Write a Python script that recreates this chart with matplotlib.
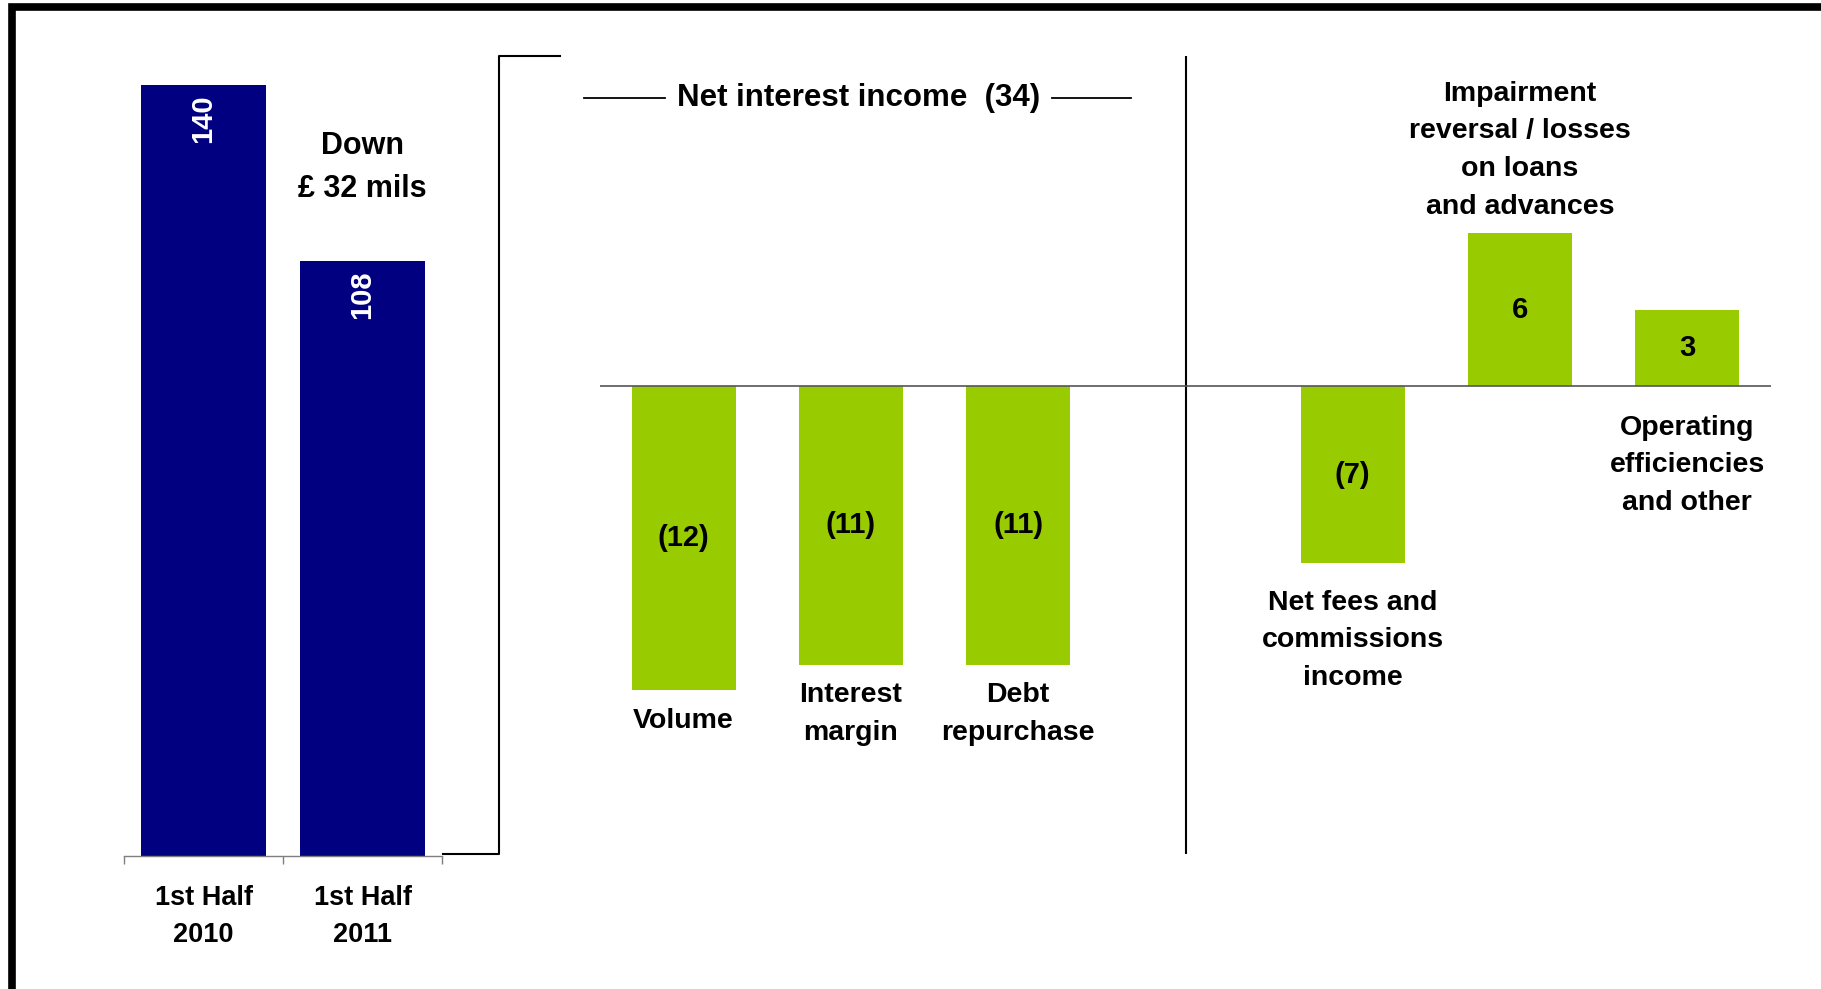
import matplotlib
matplotlib.use("Agg")
import matplotlib.pyplot as plt
from matplotlib.lines import Line2D
from matplotlib.patches import Rectangle

plt.rcParams['font.family'] = ['Liberation Sans', 'DejaVu Sans']
plt.rcParams['font.weight'] = 'bold'

# data
periods = ["1st Half\n2010", "1st Half\n2011"]
profit = [140, 108]

drivers = ["Volume", "Interest\nmargin", "Debt\nrepurchase",
           "Net fees and\ncommissions\nincome",
           "Impairment\nreversal / losses\non loans\nand advances",
           "Operating\nefficiencies\nand other"]
driver_values = [-12, -11, -11, -7, 6, 3]
driver_pos = [0, 1, 2, 4, 5, 6]   # slot 3 is the divider

# label placement (points away from the bar end / zero line)
label_above = [False, False, False, False, True, False]
label_gap = [12.5, 12.5, 12.5, 19, 10, 21]

NAVY = '#000080'
GREEN = '#99CC00'

W, H = 1821, 989


def fx(p):
    return p / W


def fy(p):
    return 1 - p / H


fig = plt.figure(figsize=(W / 100, H / 100), dpi=100)

# left panel: half year totals
ax1 = fig.add_axes([fx(124), fy(856), (442 - 124) / W, (856 - 29.5) / H])
ax1.bar(range(len(profit)), profit, width=0.79, color=NAVY, zorder=2)
ax1.set_xlim(-0.5, len(profit) - 0.5)
ax1.set_ylim(0, 150)
for s in ['left', 'right', 'top']:
    ax1.spines[s].set_visible(False)
ax1.spines['bottom'].set_color('#7f7f7f')
ax1.spines['bottom'].set_linewidth(1)
ax1.set_yticks([])
ax1.set_xticks(range(len(profit)))
ax1.set_xticklabels(periods, fontsize=19.5, linespacing=1.55)
ax1.tick_params(axis='x', which='major', length=0, pad=21)
ax1.set_xticks([-0.5, 0.5, 1.5], minor=True)
ax1.tick_params(axis='x', which='minor', length=6, width=1, color='#7f7f7f')

for i, v in enumerate(profit):
    ax1.annotate(str(v), (i, v), xytext=(0, -24.5), textcoords='offset points',
                 rotation=90, color='white', ha='center', va='center', fontsize=21)

ax1.text(1, 125, "Down\n£ %d mils" % (profit[0] - profit[1]),
         ha='center', va='center', fontsize=22, linespacing=1.55)

# right panel: movement drivers
ax2 = fig.add_axes([fx(600), fy(853.6), 1171 / W, (853.6 - 55.7) / H])
ax2.bar(driver_pos, driver_values, width=0.62, color=GREEN, zorder=2)
ax2.set_xlim(-0.5, 6.5)
ax2.set_ylim(-18.43, 13.0)
ax2.axis('off')
ax2.axhline(0, color='#555555', lw=1.2, zorder=3)
ax2.axvline(3, color='black', lw=1.5)

for x, v in zip(driver_pos, driver_values):
    txt = "(%d)" % abs(v) if v < 0 else str(v)
    ax2.text(x, v / 2, txt, ha='center', va='center', fontsize=21)

for x, v, name, up, gap in zip(driver_pos, driver_values, drivers, label_above, label_gap):
    if up:
        ax2.annotate(name, (x, v), xytext=(0, gap), textcoords='offset points',
                     ha='center', va='bottom', fontsize=20.5, linespacing=1.58)
    else:
        ax2.annotate(name, (x, min(v, 0)), xytext=(0, -gap), textcoords='offset points',
                     ha='center', va='top', fontsize=20.5, linespacing=1.58)

nii = -sum(driver_values[:3])
fig.text(fx(858.5), fy(97.7), "Net interest income  (%d)" % nii,
         ha='center', va='center', fontsize=22.5)
fig.add_artist(Line2D([fx(583.7), fx(665)], [fy(97.7)] * 2, color='black', lw=1.3))
fig.add_artist(Line2D([fx(1051.6), fx(1131)], [fy(97.7)] * 2, color='black', lw=1.3))

# bracket linking the panels
fig.add_artist(Line2D([fx(442.5), fx(499.4), fx(499.4), fx(560)],
                      [fy(853.6), fy(853.6), fy(56), fy(56)], color='black', lw=1.5))

# slide frame
fig.add_artist(Rectangle((fx(11.5), fy(991)), fx(1850 - 11.5), fy(7.5) - fy(991),
                         fill=False, ec='black', lw=5.5))

fig.savefig("out.png", dpi=100, facecolor='white')
